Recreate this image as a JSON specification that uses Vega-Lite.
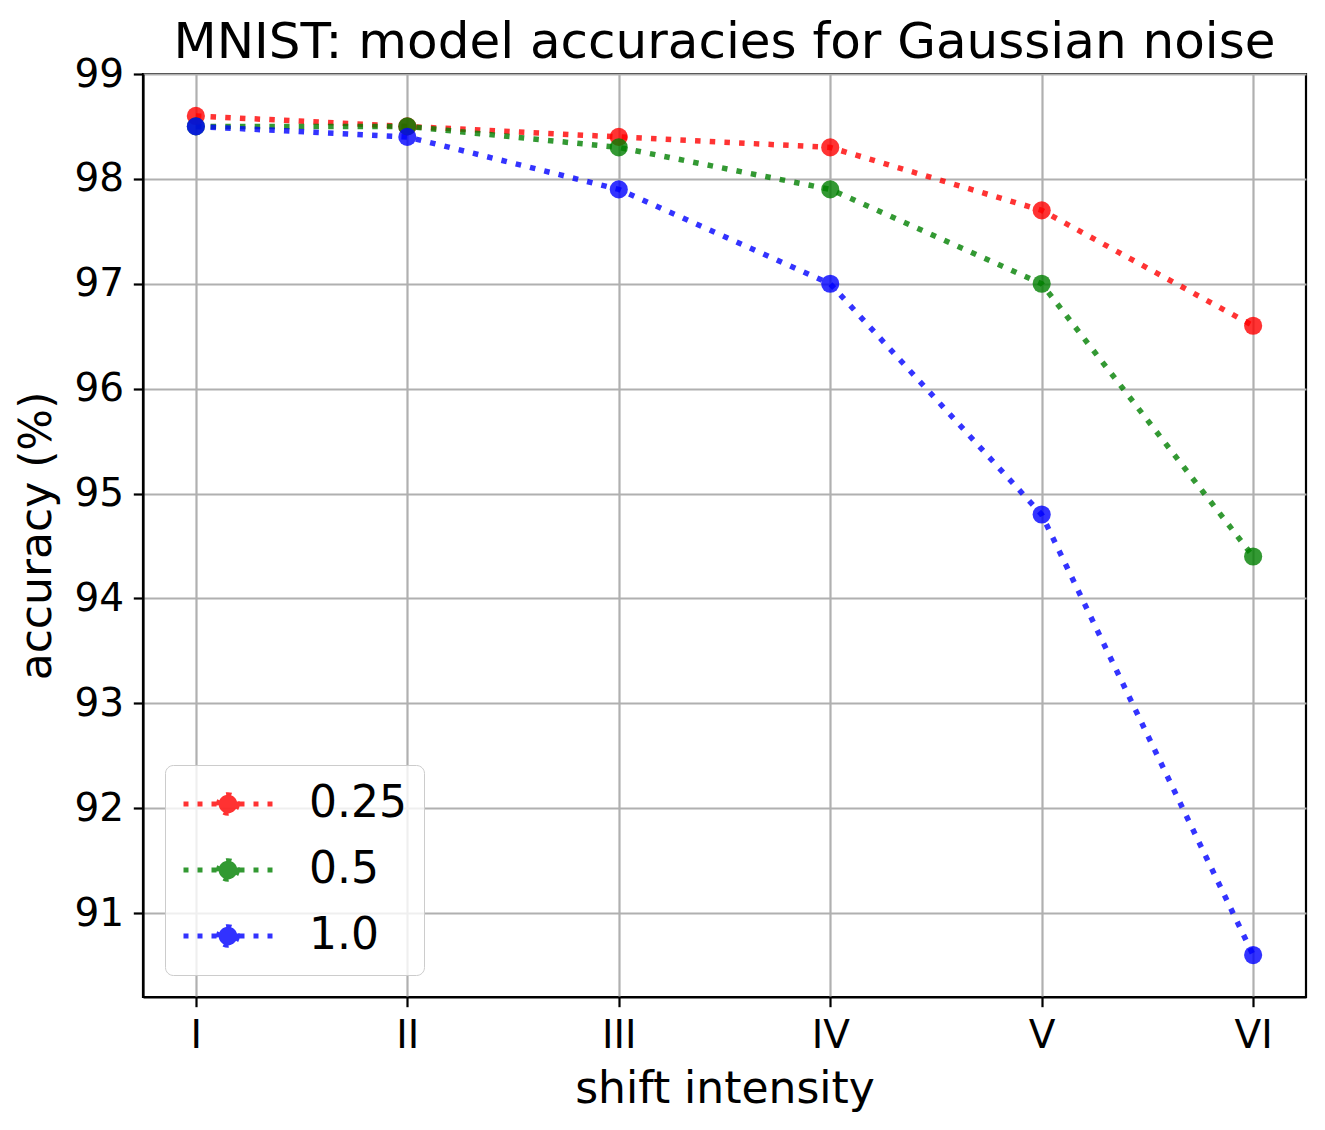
{
  "$schema": "https://vega.github.io/schema/vega-lite/v6.json",
  "width": 1163,
  "height": 923,
  "autosize": "none",
  "padding": {"left": 143, "top": 74, "right": 19, "bottom": 133},
  "background": "white",
  "title": {
    "text": "MNIST: model accuracies for Gaussian noise",
    "fontSize": 50,
    "fontWeight": "normal",
    "font": "DejaVu Sans",
    "color": "black",
    "anchor": "middle",
    "frame": "group",
    "baseline": "alphabetic",
    "offset": 0,
    "dy": 53
  },
  "config": {
    "font": "DejaVu Sans",
    "view": {"stroke": "black", "strokeWidth": 2.2},
    "axis": {
      "labelFont": "DejaVu Sans",
      "titleFont": "DejaVu Sans",
      "labelFontSize": 39,
      "titleFontSize": 44,
      "titleFontWeight": "normal",
      "labelColor": "black",
      "titleColor": "black",
      "domainColor": "black",
      "domainWidth": 2.2,
      "tickColor": "black",
      "tickWidth": 2.2,
      "tickSize": 9.7,
      "labelPadding": 9.7,
      "gridColor": "#b0b0b0",
      "gridWidth": 2.2,
      "gridOpacity": 1
    }
  },
  "data": {
    "values": [
      {"shift": "I", "noise": "0.25", "accuracy": 98.6},
      {"shift": "II", "noise": "0.25", "accuracy": 98.5},
      {"shift": "III", "noise": "0.25", "accuracy": 98.4},
      {"shift": "IV", "noise": "0.25", "accuracy": 98.3},
      {"shift": "V", "noise": "0.25", "accuracy": 97.7},
      {"shift": "VI", "noise": "0.25", "accuracy": 96.6},
      {"shift": "I", "noise": "0.5", "accuracy": 98.5},
      {"shift": "II", "noise": "0.5", "accuracy": 98.5},
      {"shift": "III", "noise": "0.5", "accuracy": 98.3},
      {"shift": "IV", "noise": "0.5", "accuracy": 97.9},
      {"shift": "V", "noise": "0.5", "accuracy": 97.0},
      {"shift": "VI", "noise": "0.5", "accuracy": 94.4},
      {"shift": "I", "noise": "1.0", "accuracy": 98.5},
      {"shift": "II", "noise": "1.0", "accuracy": 98.4},
      {"shift": "III", "noise": "1.0", "accuracy": 97.9},
      {"shift": "IV", "noise": "1.0", "accuracy": 97.0},
      {"shift": "V", "noise": "1.0", "accuracy": 94.8},
      {"shift": "VI", "noise": "1.0", "accuracy": 90.6}
    ]
  },
  "encoding": {
    "x": {
      "field": "shift",
      "type": "ordinal",
      "sort": ["I", "II", "III", "IV", "V", "VI"],
      "scale": {"type": "point", "padding": 0.25},
      "title": "shift intensity",
      "axis": {"labelAngle": 0, "grid": true, "titlePadding": 12}
    },
    "y": {
      "field": "accuracy",
      "type": "quantitative",
      "scale": {"domain": [90.2, 99], "nice": false, "zero": false},
      "title": "accuracy (%)",
      "axis": {"values": [91, 92, 93, 94, 95, 96, 97, 98, 99], "grid": true, "titlePadding": 14}
    },
    "color": {
      "field": "noise",
      "type": "nominal",
      "scale": {"domain": ["0.25", "0.5", "1.0"], "range": ["#ff0000", "#008000", "#0000ff"]},
      "legend": {
        "title": null,
        "orient": "bottom-left",
        "offset": 22,
        "symbolType": "M -4 0 L 4 0 M 0.84 0 A 0.84 0.84 0 1 1 -0.84 0 A 0.84 0.84 0 1 1 0.84 0 Z",
        "symbolSize": 495,
        "symbolOffset": 24,
        "symbolStrokeWidth": 5,
        "symbolDash": [5, 9],
        "symbolOpacity": 0.8,
        "labelFontSize": 44,
        "labelFont": "DejaVu Sans",
        "labelColor": "black",
        "labelOffset": 59,
        "rowPadding": 22,
        "padding": 17,
        "fillColor": "rgba(255,255,255,0.8)",
        "strokeColor": "#cccccc",
        "cornerRadius": 8
      }
    }
  },
  "layer": [
    {
      "mark": {"type": "line", "strokeWidth": 5.5, "strokeDash": [5.5, 9.2], "strokeCap": "butt", "opacity": 0.8}
    },
    {
      "mark": {"type": "circle", "size": 330, "opacity": 0.8}
    }
  ]
}
